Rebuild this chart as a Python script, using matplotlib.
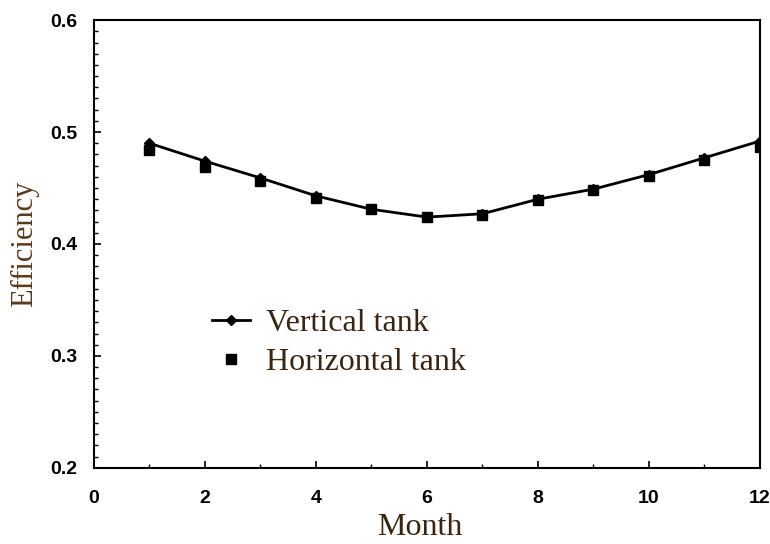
import numpy as np
import matplotlib.pyplot as plt
from matplotlib.ticker import MultipleLocator

months = [1, 2, 3, 4, 5, 6, 7, 8, 9, 10, 11, 12]
vertical = [0.490, 0.474, 0.459, 0.443, 0.431, 0.424, 0.427, 0.440, 0.449, 0.462, 0.477, 0.492]
horizontal = [0.484, 0.469, 0.456, 0.441, 0.431, 0.424, 0.426, 0.439, 0.448, 0.461, 0.475, 0.487]

label_col = "#3a2610"

fig = plt.figure(figsize=(7.7, 5.44), dpi=100)
ax = fig.add_axes([0.122, 0.140, 0.865, 0.823])

ax.plot(months, vertical, color="black", lw=2, marker="D", ms=5,
        label="Vertical tank", zorder=3)
ax.plot(months, horizontal, color="black", ls="none", marker="s", ms=6.5,
        label="Horizontal tank", zorder=2)

ax.set_xlim(0, 12)
ax.set_ylim(0.2, 0.6)
ax.xaxis.set_major_locator(MultipleLocator(2))
ax.xaxis.set_minor_locator(MultipleLocator(1))
ax.yaxis.set_major_locator(MultipleLocator(0.1))
ax.yaxis.set_minor_locator(MultipleLocator(0.01))
ax.tick_params(which="both", direction="in", top=False, right=False)
ax.tick_params(which="major", length=5, width=1.2)
ax.tick_params(which="minor", length=3, width=1)
ax.tick_params(axis="x", pad=16)
ax.tick_params(axis="y", pad=12)
for s in ax.spines.values():
    s.set_linewidth(1.5)

for lab in ax.get_xticklabels() + ax.get_yticklabels():
    lab.set_fontfamily("Liberation Sans")
    lab.set_fontweight("bold")
    lab.set_fontsize(14)
ax.yaxis.set_major_formatter(plt.FuncFormatter(lambda v, p: "%.1f" % v))

ax.set_xlabel("Month", family="Liberation Serif", fontsize=23, color=label_col, labelpad=4)
ax.xaxis.label.set_x(0.49)
ax.set_ylabel("Efficiency", family="Liberation Serif", fontsize=22, color="#5a3a18", labelpad=8)

leg = ax.legend(loc="upper left", bbox_to_anchor=(0.134, 0.42), frameon=False,
                prop={"family": "Liberation Serif", "size": 23},
                handlelength=1.2, labelspacing=0.3, handletextpad=0.5)
for t in leg.get_texts():
    t.set_color(label_col)

fig.savefig("out.png", dpi=100)
